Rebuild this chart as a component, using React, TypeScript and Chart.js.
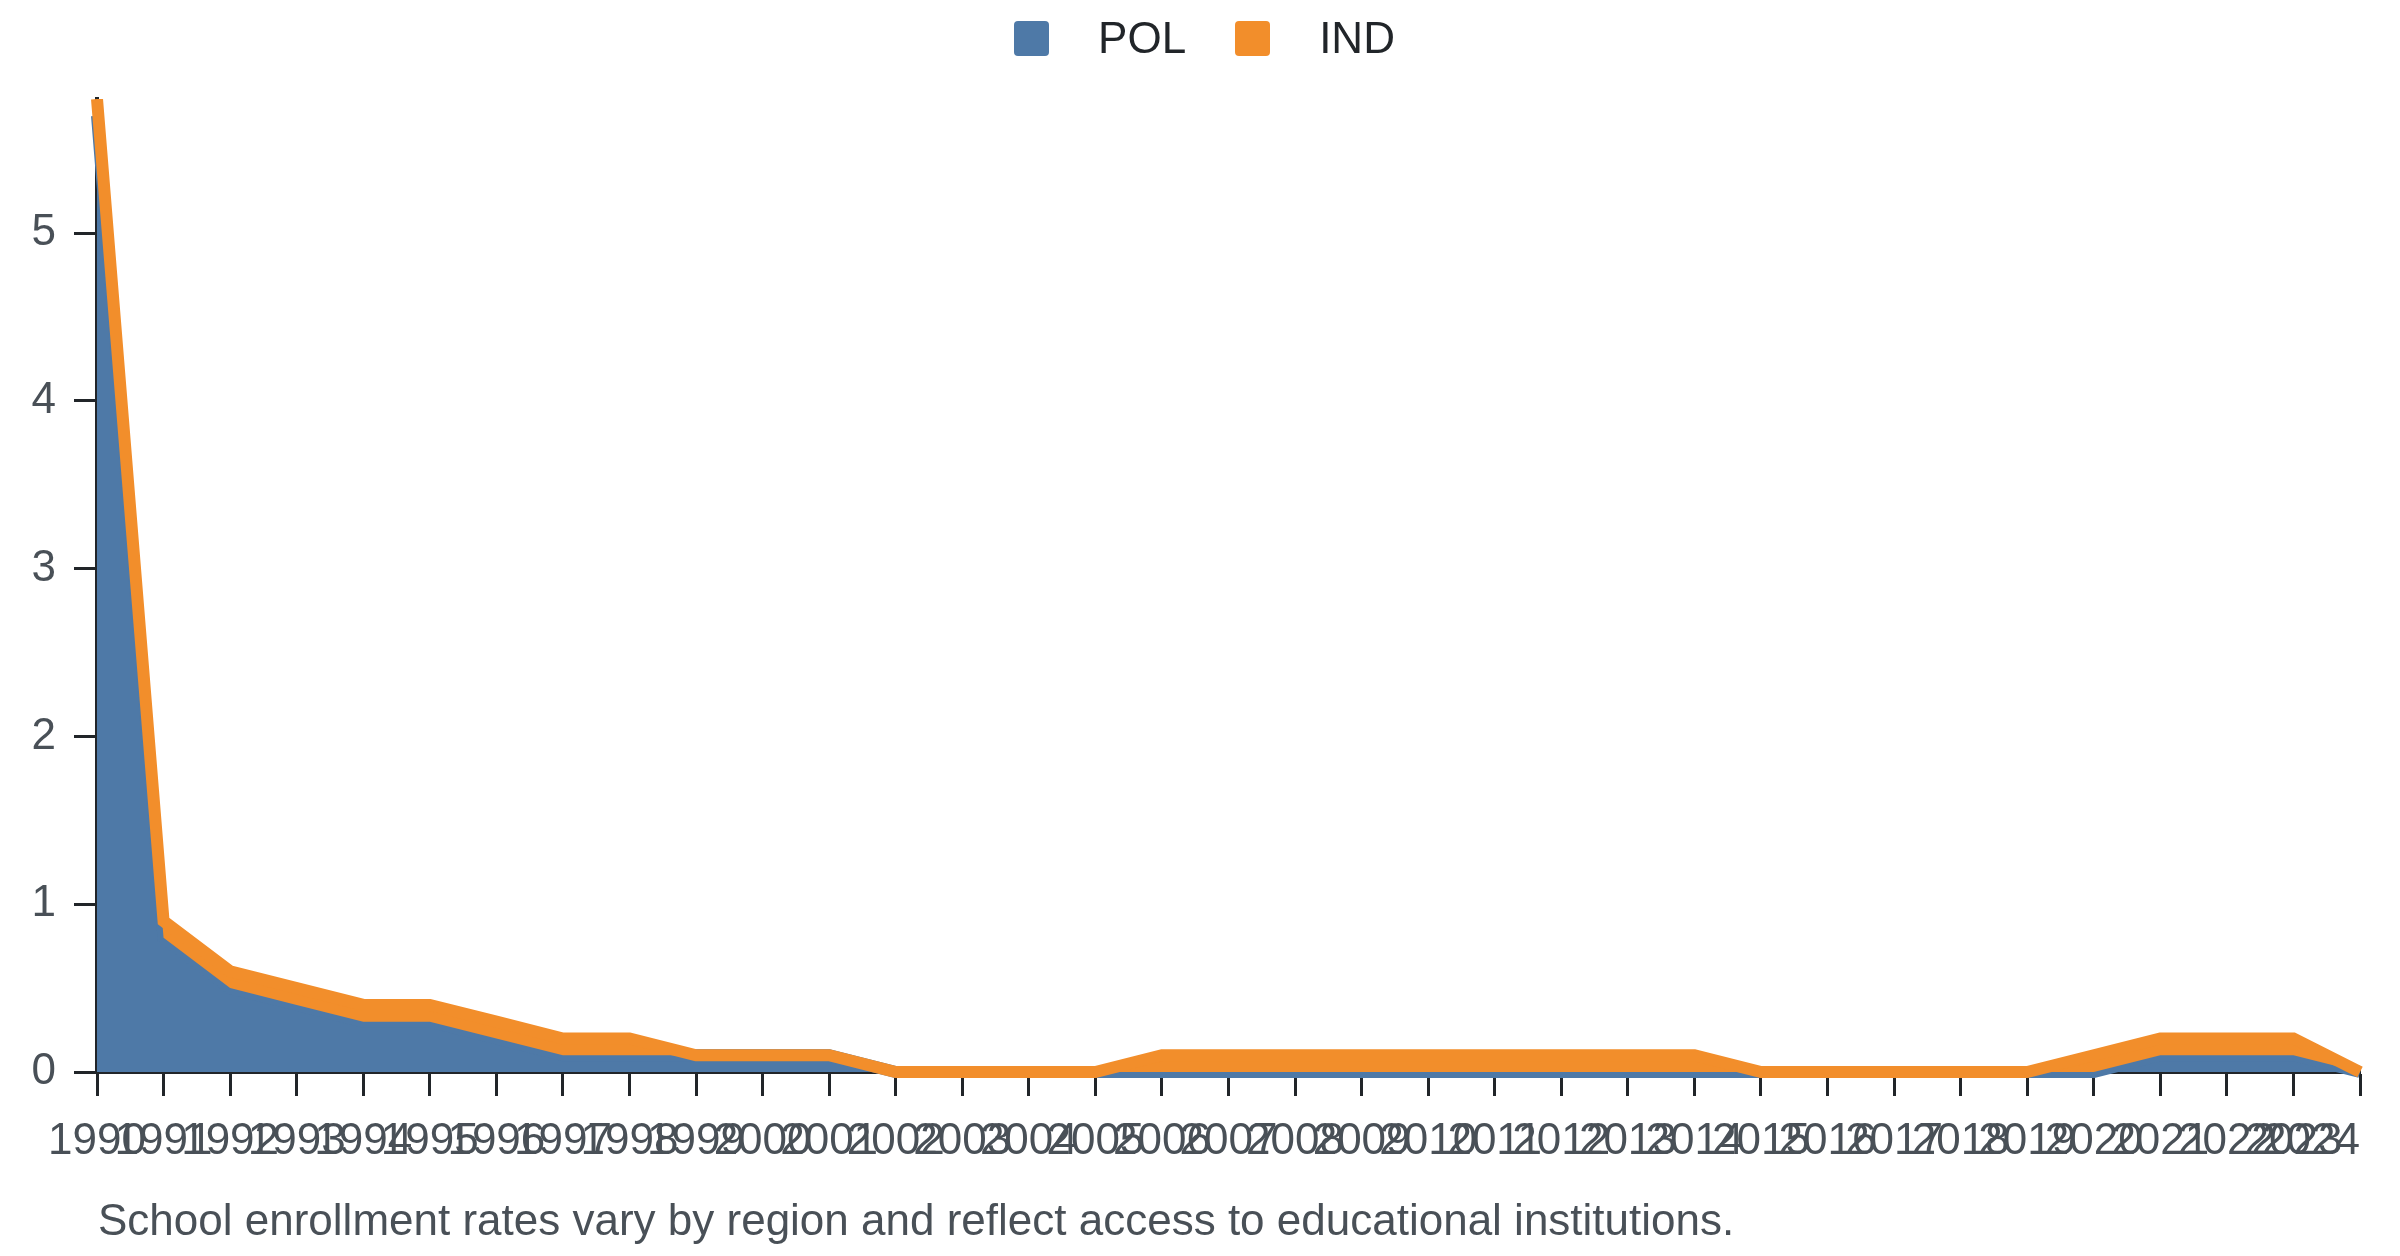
import Chart from "chart.js/auto"
import { useEffect, useRef } from "react"

const years = [
	"1990", "1991", "1992", "1993", "1994", "1995", "1996", "1997", "1998", "1999",
	"2000", "2001", "2002", "2003", "2004", "2005", "2006", "2007", "2008", "2009",
	"2010", "2011", "2012", "2013", "2014", "2015", "2016", "2017", "2018", "2019",
	"2020", "2021", "2022", "2023", "2024",
]

const polValues = [
	5.7, 0.8, 0.5, 0.4, 0.3, 0.3, 0.2, 0.1, 0.1, 0.1,
	0.1, 0.1, 0, 0, 0, 0, 0, 0, 0, 0,
	0, 0, 0, 0, 0, 0, 0, 0, 0, 0,
	0, 0.1, 0.1, 0.1, 0,
]

const indValues = [
	0.1, 0.1, 0.1, 0.1, 0.1, 0.1, 0.1, 0.1, 0.1, 0,
	0, 0, 0, 0, 0, 0, 0.1, 0.1, 0.1, 0.1,
	0.1, 0.1, 0.1, 0.1, 0.1, 0, 0, 0, 0, 0,
	0.1, 0.1, 0.1, 0.1, 0,
]

const seriesNames = ["POL", "IND"]
const seriesColors = ["#4e79a7", "#f28e2b"]
const yMax = 5.8

const caption = "School enrollment rates vary by region and reflect access to educational institutions."

const fontFamily = '"Liberation Sans", Arial, Helvetica, sans-serif'
const fontSize = 44
const dark = "#212529"
const gray = "#495057"

// the last year label sits flush with the right end of the axis
const lastLabelRight = {
	id: "lastLabelRight",
	afterLayout(chart: any) {
		const scale = chart.scales.x
		if (!scale || typeof scale.getLabelItems !== "function") return
		const items = scale.getLabelItems()
		if (items && items.length) items[items.length - 1].options.textAlign = "right"
	},
}

// strokes may spill past the axes, but not above the plot
const areaClip = { left: 20, top: 0, right: 20, bottom: 20 }

function AreaChart() {
	const canvasRef = useRef<HTMLCanvasElement>(null)

	useEffect(() => {
		if (!canvasRef.current) return
		const ctx = canvasRef.current.getContext("2d")
		if (!ctx) return

		// IND sits on top of POL
		const indTop = indValues.map((v, i) => v + polValues[i])

		const chart = new Chart(ctx, {
			type: "line",
			data: {
				labels: years,
				datasets: [
					{
						label: seriesNames[0],
						data: polValues,
						borderColor: seriesColors[0],
						backgroundColor: seriesColors[0],
						borderWidth: 12,
						fill: "origin",
						pointRadius: 0,
						tension: 0,
						order: 1,
						clip: areaClip,
					},
					{
						label: seriesNames[1],
						data: indTop,
						borderColor: seriesColors[1],
						backgroundColor: seriesColors[1],
						borderWidth: 12,
						fill: "-1",
						pointRadius: 0,
						tension: 0,
						order: 0,
						clip: areaClip,
					},
				],
			},
			options: {
				responsive: false,
				animation: false,
				events: [],
				layout: { padding: { top: 99, left: 0, right: 40, bottom: 64 } },
				plugins: {
					legend: { display: false },
					tooltip: { enabled: false },
				},
				scales: {
					x: {
						type: "category",
						offset: false,
						grid: {
							drawOnChartArea: false,
							drawTicks: true,
							tickLength: 24,
							tickWidth: 3,
							tickColor: dark,
						},
						border: { display: true, color: dark, width: 4 },
						ticks: {
							autoSkip: false,
							maxRotation: 0,
							minRotation: 0,
							color: gray,
							padding: 19,
							font: { size: fontSize, family: fontFamily },
						},
						afterFit: (scale: any) => {
							scale.height = 120
							scale.paddingLeft = 0
							scale.paddingRight = 0
						},
					},
					y: {
						min: 0,
						max: yMax,
						grid: {
							drawOnChartArea: false,
							drawTicks: true,
							tickLength: 23,
							tickWidth: 3,
							tickColor: dark,
						},
						border: { display: true, color: dark, width: 4 },
						ticks: {
							stepSize: 1,
							includeBounds: false,
							color: gray,
							padding: 18,
							font: { size: fontSize, family: fontFamily },
						},
						afterFit: (scale: any) => {
							scale.width = 97
							scale.paddingTop = 0
							scale.paddingBottom = 0
						},
					},
				},
			},
			plugins: [lastLabelRight],
		})

		return () => {
			chart.destroy()
		}
	}, [])

	return (
		<canvas
			ref={canvasRef}
			width={2400}
			height={1256}
			style={{ display: "block", width: 2400, height: 1256 }}
		/>
	)
}

function Legend() {
	return (
		<div
			style={{
				position: "absolute",
				left: 0,
				top: 16,
				width: 2400,
				display: "flex",
				justifyContent: "center",
				alignItems: "center",
				fontFamily,
				fontSize,
				lineHeight: `${fontSize}px`,
				color: dark,
				paddingLeft: 9,
				boxSizing: "border-box",
			}}
		>
			{seriesNames.map((name, i) => (
				<div key={name} style={{ display: "flex", alignItems: "center", marginLeft: i === 0 ? 0 : 49 }}>
					<span
						style={{
							display: "inline-block",
							width: 35,
							height: 35,
							borderRadius: 4,
							background: seriesColors[i],
							marginRight: 49,
						}}
					/>
					<span>{name}</span>
				</div>
			))}
		</div>
	)
}

export default function App() {
	return (
		<div style={{ position: "absolute", left: 0, top: 0, width: 2400, height: 1256, background: "#fff" }}>
			<AreaChart />
			<Legend />
			<div
				style={{
					position: "absolute",
					left: 98,
					top: 1198,
					fontFamily,
					fontSize,
					lineHeight: `${fontSize}px`,
					color: gray,
					whiteSpace: "nowrap",
				}}
			>
				{caption}
			</div>
		</div>
	)
}
